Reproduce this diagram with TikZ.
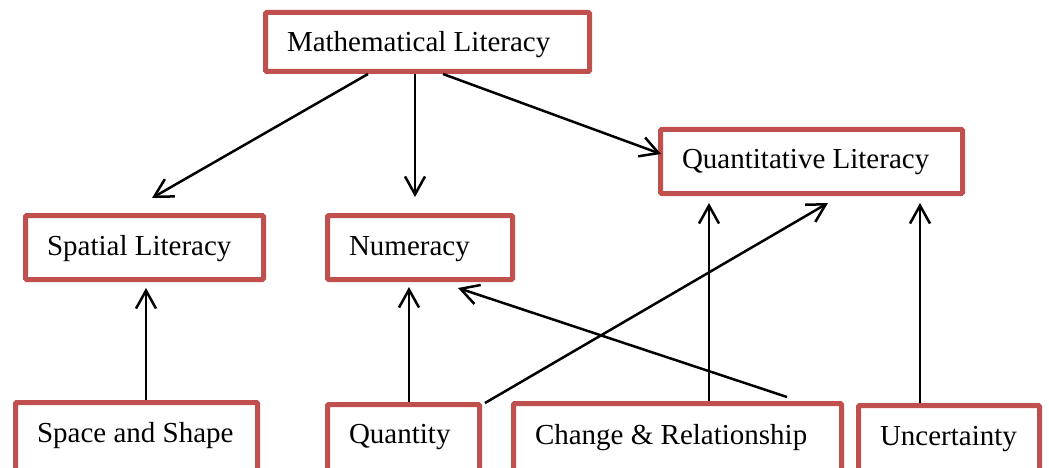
\documentclass[tikz,border=0pt]{standalone}
\usepackage{fontspec}
\setmainfont{Liberation Serif}
\usetikzlibrary{arrows.meta,calc}
\definecolor{boxred}{RGB}{192,80,77}
\newcommand{\boxtext}[2]{\makebox[#1][l]{#2}}
\begin{document}
\begin{tikzpicture}[x=1pt,y=-1pt,
  box/.style={draw=boxred, line width=5pt, rounded corners=1.2pt, fill=white,
    inner xsep=21.5pt, inner ysep=0pt, anchor=north west,
    font=\fontsize{29}{34}\selectfont},
  arr/.style={line width=2.5pt, -{Straight Barb[length=18pt,width=20pt]}}]
\useasboundingbox (0,0) rectangle (1049,468);
\clip (0,0) rectangle (1049,468);
% boxes (anchors at outer edge of the 5pt border)
\node[box, text height=39.5pt, text depth=19.5pt] (math) at (263,10) {\boxtext{281pt}{Mathematical Literacy}};
\node[box, text height=39.5pt, text depth=24.5pt] (spatial) at (23,213) {\boxtext{195pt}{Spatial Literacy}};
\node[box, text height=39.5pt, text depth=24.5pt] (numeracy) at (325,213) {\boxtext{142pt}{Numeracy}};
\node[box, text height=38.5pt, text depth=25.5pt] (quant) at (658,127) {\boxtext{259pt}{Quantitative Literacy}};
\node[box, text height=39.5pt, text depth=40pt] (space) at (13,400) {\boxtext{199pt}{Space and Shape}};
\node[box, text height=38.5pt, text depth=40pt] (qty) at (325,402) {\boxtext{109pt}{Quantity}};
\node[box, text height=40.5pt, text depth=40pt] (change) at (511,401) {\boxtext{285pt}{Change \& Relationship}};
\node[box, text height=39.5pt, text depth=40pt] (unc) at (856,403) {\boxtext{138pt}{Uncertainty}};
% arrow tips
\coordinate (tSp1) at (152,198);
\coordinate (tNum1) at (415,197);
\coordinate (tQ1) at (661,154);
\coordinate (tSp2) at (146,288);
\coordinate (tNum2) at (409,287);
\coordinate (tQ2) at (828,203);
\coordinate (tNum3) at (458,288);
\coordinate (tQ3) at (709,203);
\coordinate (tQ4) at (920,203);
% connectors
\draw[arr] ([xshift=105pt]math.south west) -- (tSp1);
\draw[arr] (math.south -| tNum1) -- (tNum1);
\draw[arr] ([xshift=180pt]math.south west) -- (tQ1);
\draw[arr] (space.north -| tSp2) -- (tSp2);
\draw[arr] (qty.north -| tNum2) -- (tNum2);
\draw[arr] ([xshift=3pt,yshift=-1pt]qty.north east) -- (tQ2);
\draw[arr] ([xshift=276pt,yshift=4pt]change.north west) -- (tNum3);
\draw[arr] (change.north -| tQ3) -- (tQ3);
\draw[arr] (unc.north -| tQ4) -- (tQ4);
\end{tikzpicture}
\end{document}
